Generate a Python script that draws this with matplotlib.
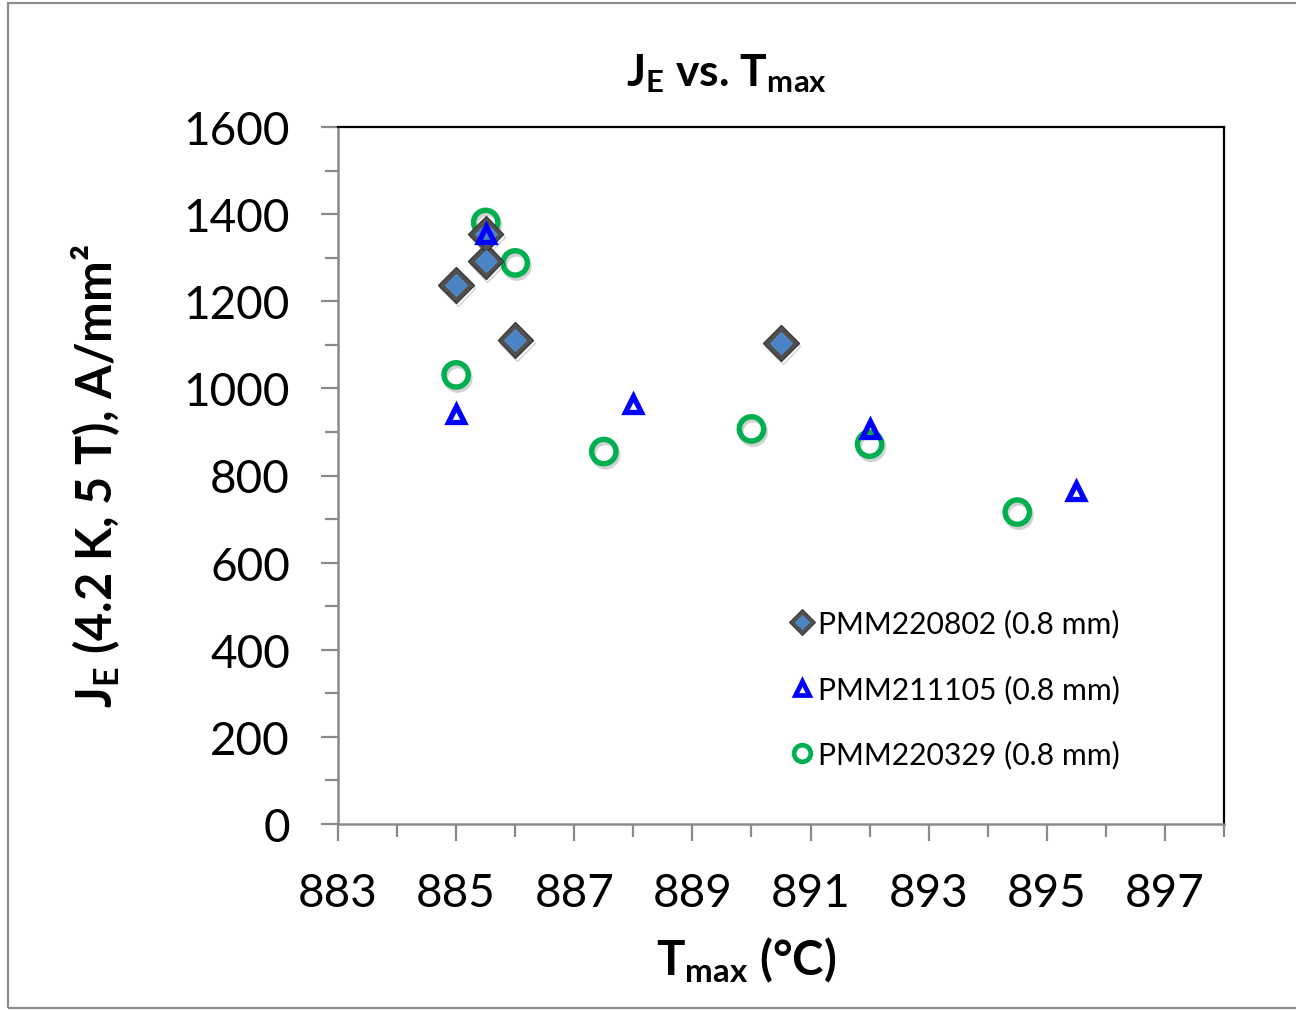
import matplotlib
matplotlib.use("Agg")
import matplotlib.pyplot as plt
import matplotlib.patheffects as pe
from matplotlib.lines import Line2D
from matplotlib.patches import Rectangle
from matplotlib.legend_handler import HandlerTuple
from matplotlib.ticker import MultipleLocator

plt.rcParams['font.family'] = ['Lato', 'DejaVu Sans']
plt.rcParams['mathtext.default'] = 'regular'

# Engineering current density at 4.2 K, 5 T versus peak heat-treatment temperature
t_220802 = [885.0, 885.5, 885.5, 886.0, 890.5]
je_220802 = [1237, 1292, 1354, 1111, 1104]

t_211105 = [885.0, 885.5, 888.0, 892.0, 895.5]
je_211105 = [941, 1354, 964, 907, 765]

t_220329 = [885.5, 886.0, 885.0, 887.5, 890.0, 892.0, 894.5]
je_220329 = [1381, 1288, 1031, 855, 907, 872, 716]

labels = ["PMM220802 (0.8 mm)", "PMM211105 (0.8 mm)", "PMM220329 (0.8 mm)"]
x_ticks = [883, 885, 887, 889, 891, 893, 895, 897]
y_ticks = [0, 200, 400, 600, 800, 1000, 1200, 1400, 1600]

W, H = 1296, 1012
fig = plt.figure(figsize=(W / 100, H / 100), dpi=100)
fig.patch.set_facecolor('white')

# chart-area border
fig.patches.append(Rectangle((8 / W, 1 - 1009 / H), 1.2, 1005 / H,
                             transform=fig.transFigure, fill=False,
                             edgecolor='#8c8c8c', linewidth=1.6))

ax = fig.add_axes([338 / W, 1 - 825 / H, (1224 - 338) / W, (825 - 128) / H])

blue_fill = '#4a84c4'
green = '#00b050'
tri_blue = '#0000ff'
shadow = [pe.SimpleLineShadow(offset=(1.2, -2.2), shadow_color='#000000', alpha=0.18),
          pe.Normal()]

ax.plot(t_220329, je_220329, linestyle='none', marker='o', markersize=17.5,
        markerfacecolor='none', markeredgecolor=green, markeredgewidth=3.9,
        zorder=3, path_effects=shadow)
ax.plot(t_220802, je_220802, linestyle='none', marker='D', markersize=18,
        markerfacecolor='#505050', markeredgecolor='#3a3a3a',
        markeredgewidth=1.0, zorder=4, path_effects=shadow)
ax.plot(t_220802, je_220802, linestyle='none', marker='D', markersize=11,
        markerfacecolor=blue_fill, markeredgecolor='#5b8fcc',
        markeredgewidth=0.6, zorder=5)
ax.plot(t_211105, je_211105, linestyle='none', marker='^', markersize=11.5,
        markerfacecolor='none', markeredgecolor=tri_blue, markeredgewidth=3.8,
        zorder=6)

ax.set_xlim(883, 898)
ax.set_ylim(0, 1600)
ax.set_xticks(x_ticks)
ax.set_yticks(y_ticks)
ax.xaxis.set_minor_locator(MultipleLocator(1))
ax.yaxis.set_minor_locator(MultipleLocator(100))

tick_gray = '#8a8a8a'
ax.tick_params(axis='both', which='major', direction='out', length=12.5, width=1.6,
               color=tick_gray, labelsize=33, pad=22)
ax.tick_params(axis='both', which='minor', direction='out', length=9.5, width=1.6,
               color=tick_gray)
for side in ('left', 'bottom'):
    ax.spines[side].set_color(tick_gray)
    ax.spines[side].set_linewidth(1.8)
for side in ('top', 'right'):
    ax.spines[side].set_color('black')
    ax.spines[side].set_linewidth(1.6)

ax.set_ylabel('J$_E$ (4.2 K, 5 T), A/mm²', fontsize=35, fontweight='bold', labelpad=44)
fig.text(746 / W, 1 - 960 / H, 'T$_{max}$ (°C)', fontsize=34, fontweight='bold',
         ha='center', va='center')
fig.text(726 / W, 1 - 74 / H, 'J$_E$ vs. T$_{max}$', fontsize=32, fontweight='bold',
         ha='center', va='center')

h1_outer = Line2D([], [], linestyle='none', marker='D', markersize=13,
                  markerfacecolor='#505050', markeredgecolor='#3a3a3a', markeredgewidth=0.8)
h1_inner = Line2D([], [], linestyle='none', marker='D', markersize=7.5,
                  markerfacecolor=blue_fill, markeredgecolor='#5b8fcc', markeredgewidth=0.5)
h2 = Line2D([], [], linestyle='none', marker='^', markersize=9.5,
            markerfacecolor='none', markeredgecolor=tri_blue, markeredgewidth=3.4)
h3 = Line2D([], [], linestyle='none', marker='o', markersize=12,
            markerfacecolor='none', markeredgecolor=green, markeredgewidth=3.4)
leg = ax.legend([(h1_outer, h1_inner), h2, h3], labels,
                handler_map={tuple: HandlerTuple(ndivide=1)},
                loc='center left',
                bbox_to_anchor=((775 - 338) / (1224 - 338), (825 - 690) / (825 - 128)),
                frameon=False, fontsize=21.7, handlelength=0.78, handletextpad=0.15,
                labelspacing=1.22, borderpad=0)

fig.savefig('out.png', dpi=100, facecolor='white')
